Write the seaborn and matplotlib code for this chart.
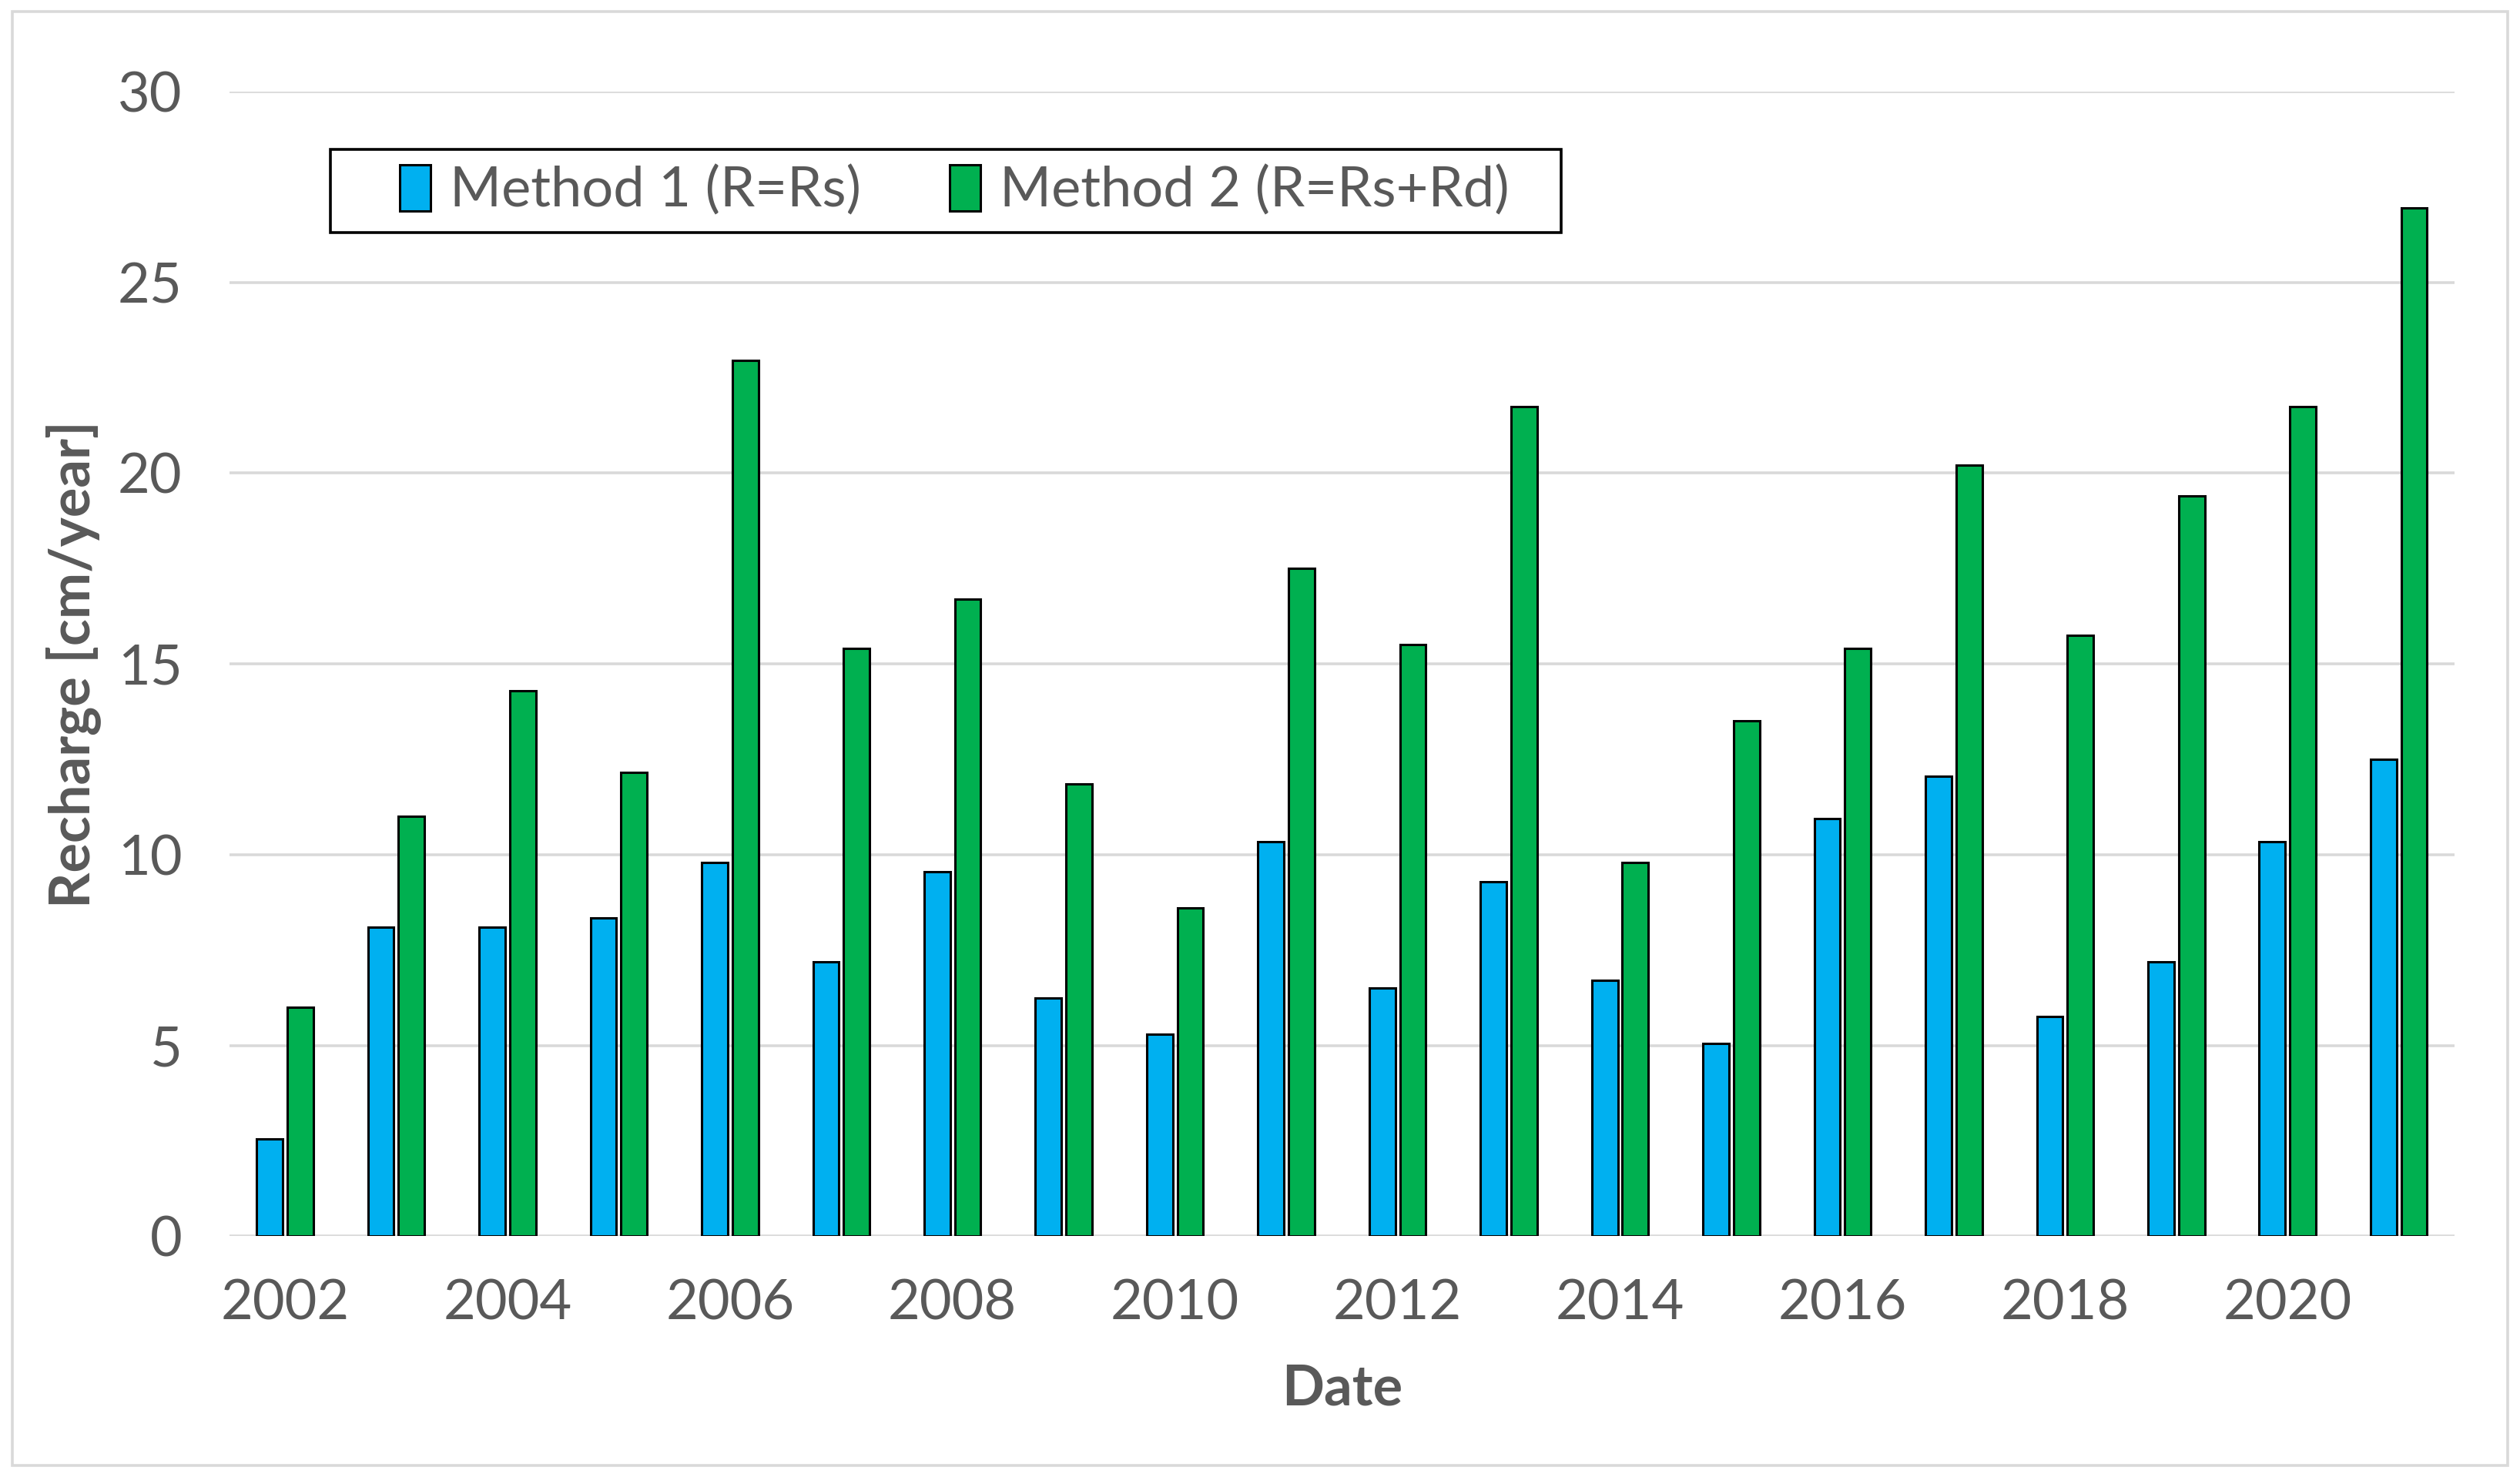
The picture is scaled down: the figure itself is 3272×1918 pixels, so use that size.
import numpy as np
import pandas as pd
import seaborn as sns
import matplotlib.pyplot as plt
from matplotlib.patches import Rectangle

# data
years = list(range(2002, 2022))
method1 = [2.55, 8.1, 8.1, 8.35, 9.8, 7.2, 9.55, 6.25, 5.3, 10.35,
           6.5, 9.3, 6.7, 5.05, 10.95, 12.05, 5.75, 7.2, 10.35, 12.5]
method2 = [6.0, 11.0, 14.3, 12.15, 22.95, 15.4, 16.7, 11.85, 8.6, 17.5,
           15.5, 21.75, 9.8, 13.5, 15.4, 20.2, 15.75, 19.4, 21.75, 26.95]
labels = ["Method 1 (R=Rs)", "Method 2 (R=Rs+Rd)"]
colors = ["#00B0F0", "#00B050"]

df = pd.DataFrame({
    "Date": [str(y) for y in years] * 2,
    "Recharge": method1 + method2,
    "Method": [labels[0]] * len(years) + [labels[1]] * len(years),
})

sns.set_theme(style="white")
plt.rcParams['font.family'] = ['Lato', 'DejaVu Sans']
txt = "#595959"

fig = plt.figure(figsize=(16.36, 9.59), dpi=200)
ax = fig.add_axes([0.091, 0.163, 0.883, 0.775])

sns.barplot(data=df, x="Date", y="Recharge", hue="Method", palette=colors,
            saturation=1, width=0.55, gap=0.15, edgecolor="black", linewidth=1.1,
            legend=False, ax=ax, zorder=3)

ax.set_ylim(0, 30)
ax.set_xlim(-0.5, len(years) - 0.5)
ax.set_yticks(np.arange(0, 31, 5))
ax.yaxis.grid(True, color="#D9D9D9", linewidth=1.3, zorder=0)
ax.set_axisbelow(True)
sns.despine(ax=ax, left=True, bottom=True, top=True, right=True)

ax.set_xticks(range(0, len(years), 2))
ax.set_xticklabels([str(y) for y in years[::2]])
ax.tick_params(axis="both", length=0, labelsize=26, labelcolor=txt)
ax.tick_params(axis="x", pad=20)
ax.tick_params(axis="y", pad=22)

ax.set_xlabel("Date", fontsize=26, fontweight="bold", color=txt, labelpad=16)
ax.set_ylabel("Recharge [cm/year]", fontsize=26, fontweight="bold", color=txt, labelpad=8)

# legend box drawn separately so the entries sit centred in a wider frame
fig.patches.append(Rectangle((0.131, 0.8425), 0.4886, 0.0565, transform=fig.transFigure,
                             facecolor="white", edgecolor="black", linewidth=1.3, zorder=5))
handles = [Rectangle((0, 0), 1, 1, facecolor=c, edgecolor="black", linewidth=1.1) for c in colors]
leg = fig.legend(handles, labels, loc="center", bbox_to_anchor=(0.3788, 0.871),
                 ncol=2, fontsize=26, frameon=False,
                 handlelength=0.55, handleheight=0.9, handletextpad=0.35,
                 columnspacing=1.6, borderpad=0, borderaxespad=0)
leg.set_zorder(6)
for t in leg.get_texts():
    t.set_color(txt)

# outer light border around the chart
fig.patches.append(Rectangle((0.005, 0.008), 0.99, 0.984, transform=fig.transFigure,
                             fill=False, edgecolor="#D9D9D9", linewidth=1.3))

fig.savefig("out.png", dpi=200)
